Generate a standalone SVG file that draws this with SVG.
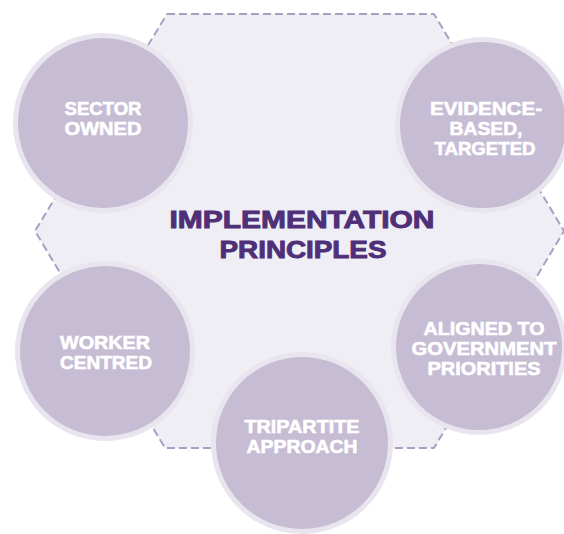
<svg xmlns="http://www.w3.org/2000/svg" width="564" height="534" viewBox="0 0 564 534">
  <style>
    .hex { fill: #f0eef5; stroke: #ab9ec4; stroke-width: 2; stroke-dasharray: 8 4; stroke-linejoin: round; }
    .ring { fill: #e9e5ee; }
    .disc { fill: #c6bcd4; }
    .label { font-family: "Liberation Sans", Arial, sans-serif; font-weight: bold; font-size: 19px; fill: #ffffff; stroke: #ffffff; stroke-width: 0.6; text-anchor: middle; }
    .title { font-family: "Liberation Sans", Arial, sans-serif; font-weight: bold; font-size: 23.5px; fill: #4e2f78; stroke: #4e2f78; stroke-width: 0.9; text-anchor: middle; }
  </style>

  <rect width="564" height="534" fill="#ffffff"/>

  <!-- dashed hexagon backdrop -->
  <g id="frame">
    <path class="hex" d="M167,14 L434,14 L564,231 L434,448 L165,448 L35,231 Z"/>
  </g>

  <g id="connectors"></g>

  <!-- central heading -->
  <g id="title">
    <text class="title" x="302" y="228" textLength="265" lengthAdjust="spacingAndGlyphs">IMPLEMENTATION</text>
    <text class="title" x="303" y="258" textLength="167" lengthAdjust="spacingAndGlyphs">PRINCIPLES</text>
  </g>

  <!-- principle circles -->
  <g id="sector-owned">
    <circle class="ring" cx="103" cy="123" r="90"/>
    <circle class="disc" cx="103" cy="123" r="85"/>
    <text class="label" x="103" y="115" textLength="77" lengthAdjust="spacingAndGlyphs">SECTOR</text>
    <text class="label" x="103" y="135" textLength="77" lengthAdjust="spacingAndGlyphs">OWNED</text>
  </g>

  <g id="evidence-based">
    <circle class="ring" cx="483" cy="125" r="88"/>
    <circle class="disc" cx="483" cy="125" r="83"/>
    <text class="label" x="486" y="115" textLength="112" lengthAdjust="spacingAndGlyphs">EVIDENCE-</text>
    <text class="label" x="486" y="135" textLength="73" lengthAdjust="spacingAndGlyphs">BASED,</text>
    <text class="label" x="485" y="155" textLength="101" lengthAdjust="spacingAndGlyphs">TARGETED</text>
  </g>

  <g id="worker-centred">
    <circle class="ring" cx="105" cy="351" r="90"/>
    <circle class="disc" cx="105" cy="351" r="85"/>
    <text class="label" x="105" y="349" textLength="90" lengthAdjust="spacingAndGlyphs">WORKER</text>
    <text class="label" x="106" y="369" textLength="92" lengthAdjust="spacingAndGlyphs">CENTRED</text>
  </g>

  <g id="aligned">
    <circle class="ring" cx="479" cy="347" r="88"/>
    <circle class="disc" cx="479" cy="347" r="83"/>
    <text class="label" x="484" y="335" textLength="121" lengthAdjust="spacingAndGlyphs">ALIGNED TO</text>
    <text class="label" x="484" y="355" textLength="145" lengthAdjust="spacingAndGlyphs">GOVERNMENT</text>
    <text class="label" x="484" y="375" textLength="113" lengthAdjust="spacingAndGlyphs">PRIORITIES</text>
  </g>

  <g id="tripartite">
    <circle class="ring" cx="302" cy="443" r="91"/>
    <circle class="disc" cx="302" cy="443" r="86"/>
    <text class="label" x="302" y="433" textLength="115" lengthAdjust="spacingAndGlyphs">TRIPARTITE</text>
    <text class="label" x="302" y="453" textLength="111" lengthAdjust="spacingAndGlyphs">APPROACH</text>
  </g>
</svg>
